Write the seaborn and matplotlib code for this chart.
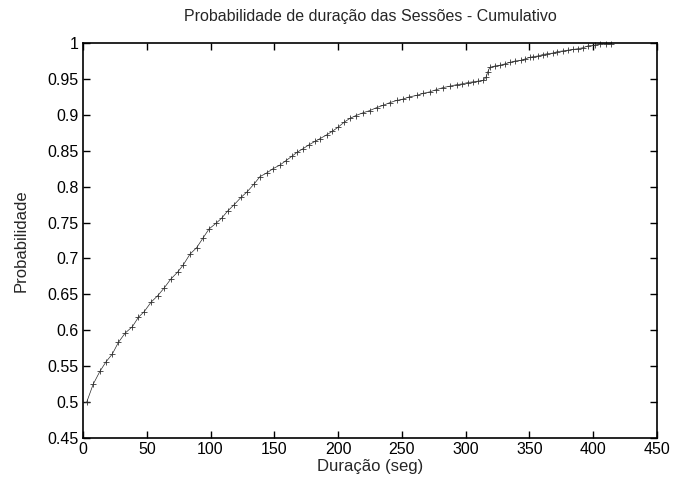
import matplotlib
matplotlib.use("Agg")
import matplotlib.pyplot as plt
import seaborn as sns
import pandas as pd

# Data
duracao = [2.9, 8, 13.3, 18, 23, 27.7, 33, 38.7, 43.4, 48, 53.3, 58.5, 63.7, 68.7,
           74.2, 78.6, 83.9, 89.1, 94.3, 98.8, 104.3, 108.7, 113.4, 118.6, 123.9,
           128.8, 134.3, 138.8, 144, 149, 154.4, 159, 163.6, 168, 172.7, 177, 181.9,
           186, 191, 195.5, 200.2, 205, 209.3, 214, 219.8, 225, 230.2, 235, 240.7,
           246, 251.1, 256, 261.6, 267, 272, 277, 282.5, 288, 293, 297, 302, 306,
           310, 313.8, 316, 317.5, 319, 323, 326.9, 331, 334.7, 339, 343.9, 347,
           350.4, 353, 357, 360.7, 364, 368.5, 372, 376.5, 380, 384.3, 388, 392.2,
           396, 401.4, 405.3, 410.5, 414.4]
probabilidade = [0.500, 0.525, 0.543, 0.556, 0.567, 0.583, 0.596, 0.605, 0.618, 0.626,
                 0.639, 0.648, 0.659, 0.671, 0.681, 0.691, 0.706, 0.715, 0.729, 0.741,
                 0.749, 0.756, 0.766, 0.775, 0.785, 0.793, 0.804, 0.814, 0.819, 0.825,
                 0.830, 0.836, 0.842, 0.848, 0.853, 0.858, 0.863, 0.867, 0.872, 0.877,
                 0.883, 0.890, 0.895, 0.899, 0.903, 0.906, 0.910, 0.913, 0.917, 0.920,
                 0.922, 0.925, 0.927, 0.930, 0.932, 0.935, 0.938, 0.940, 0.942, 0.943,
                 0.945, 0.946, 0.947, 0.948, 0.952, 0.960, 0.966, 0.968, 0.969, 0.971,
                 0.973, 0.975, 0.976, 0.978, 0.980, 0.981, 0.982, 0.984, 0.985, 0.986,
                 0.988, 0.989, 0.990, 0.991, 0.992, 0.9935, 0.996, 0.997, 0.999, 0.999, 0.999]

xticks = [0, 50, 100, 150, 200, 250, 300, 350, 400, 450]
yticks = [0.45, 0.5, 0.55, 0.6, 0.65, 0.7, 0.75, 0.8, 0.85, 0.9, 0.95, 1.0]
ytick_labels = ["0.45", "0.5", "0.55", "0.6", "0.65", "0.7", "0.75", "0.8",
                "0.85", "0.9", "0.95", "1"]

sns.set_style("ticks")
plt.rcParams["font.family"] = ["Liberation Sans", "DejaVu Sans"]

df = pd.DataFrame({"x": duracao, "y": probabilidade})

fig = plt.figure(figsize=(6.75, 4.78), dpi=100)
ax = fig.add_axes([0.123, 0.0837, 0.850, 0.8263])

sns.lineplot(data=df, x="x", y="y", ax=ax, color="#2a2a2a", linewidth=0.5,
             marker="+", markersize=4.5, markeredgewidth=0.6,
             markeredgecolor="#333333", markerfacecolor="#333333",
             estimator=None, sort=False, clip_on=False)

ax.set_xlim(0, 450)
ax.set_ylim(0.45, 1.0)
ax.set_xticks(xticks)
ax.set_xticklabels([str(t) for t in xticks])
ax.set_yticks(yticks)
ax.set_yticklabels(ytick_labels)

ax.tick_params(direction="in", top=True, right=True, length=5, width=1,
               labelsize=11.5, colors="black", pad=3)
for s in ax.spines.values():
    s.set_visible(True)
    s.set_linewidth(1.2)
    s.set_color("black")

ax.set_xlabel("Duração (seg)", fontsize=12, labelpad=1)
ax.set_ylabel("Probabilidade", fontsize=12, labelpad=14)
ax.set_title("Probabilidade de duração das Sessões - Cumulativo", fontsize=11.5, pad=16)

fig.savefig("out.png", dpi=100)
